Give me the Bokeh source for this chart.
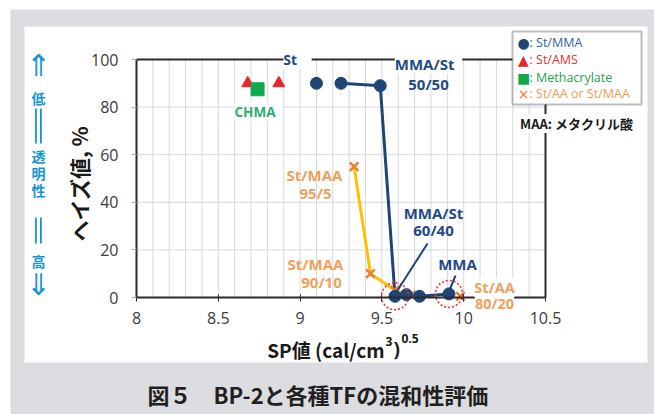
import math
from bokeh.plotting import figure
from bokeh.models import (Range1d, LinearAxis, SingleIntervalTicker, FixedTicker, Label,
                          BoxAnnotation, NumeralTickFormatter)
from bokeh.embed import file_html
from bokeh.resources import INLINE

# --- data: SP value (cal/cm3)^0.5 vs haze (%) ---
st_mma_sp = [9.10, 9.25, 9.49, 9.58, 9.65, 9.73, 9.91]
st_mma_haze = [90, 90, 89, 0.5, 1.2, 0.5, 1.5]
st_ams_sp = [8.68, 8.87]
st_ams_haze = [90, 90]
chma_sp = [8.74]
chma_haze = [87.5]
st_maa_sp = [9.33, 9.43, 9.58, 9.68]
st_maa_haze = [55, 10, 3, 1]
st_aa_sp = [9.98]
st_aa_haze = [0.5]

x_tick_step = 0.5
x_grid_step = 0.1
y_tick_step = 20

# --- page geometry (pixels); the frame spans the whole canvas ---
W, H = 654, 414
FL, FR, FT = 136, 545, 59   # pixel columns of SP 8 / 10.5, pixel row of haze 100
Y0 = 297                     # pixel row of haze = 0
XMIN, XMAX, YMIN, YMAX = 8, 10.5, 0, 100


def dx(px):
    return XMIN + (px - FL) * (XMAX - XMIN) / (FR - FL)


def dy(py):
    return (Y0 - py) * YMAX / (Y0 - FT)


NAVY = "#1f4476"
NAVY_TXT = "#1f4a86"
RED = "#e8262a"
GREEN = "#12a84e"
ORANGE = "#ed7d31"
ORANGE_TXT = "#f0a05a"
GOLD = "#ffc000"
CYAN = "#1496d6"
GRID = "#d6d8e0"
DARK = "#2b2b2b"
GRAY = "#dcdde0"
JP = "Noto Sans CJK JP"
LAT = "Open Sans"

p = figure(width=W, height=H,
           x_range=Range1d(dx(0), dx(W)), y_range=Range1d(dy(H), dy(0)),
           output_backend="svg", toolbar_location=None,
           min_border=0, min_border_left=0, min_border_right=0,
           min_border_top=0, min_border_bottom=0,
           border_fill_color="white", background_fill_color="white",
           outline_line_color=None)

# background: gray band with a white card on it
p.add_layout(BoxAnnotation(left=dx(10), right=dx(700), top=dy(9), bottom=dy(460),
                           fill_color=GRAY, fill_alpha=1, line_color=None, level="image"))
p.add_layout(BoxAnnotation(left=dx(24), right=dx(647), top=dy(26), bottom=dy(362),
                           fill_color="white", fill_alpha=1, line_color=None, level="image"))

# --- grid, limited to the data area ---
p.xgrid.visible = False
p.ygrid.visible = False
n_vx = int(round((XMAX - XMIN) / x_grid_step)) + 1
grid_x = [XMIN + i * x_grid_step for i in range(n_vx)]
p.segment(x0=grid_x, y0=[YMIN] * n_vx, x1=grid_x, y1=[YMAX] * n_vx,
          line_color=GRID, line_width=1)
n_hy = int(round((YMAX - YMIN) / y_tick_step)) + 1
grid_y = [YMIN + i * y_tick_step for i in range(n_hy)]
p.segment(x0=[XMIN] * n_hy, y0=grid_y, x1=[XMAX] * n_hy, y1=grid_y,
          line_color=GRID, line_width=1)

# --- axes, pinned to the data box ---
xt = SingleIntervalTicker(interval=x_tick_step, num_minor_ticks=0)
yt = SingleIntervalTicker(interval=y_tick_step, num_minor_ticks=0)

xa = p.xaxis[0]
xa.ticker = xt
xa.formatter = NumeralTickFormatter(format="0.[0]")
xa.fixed_location = YMIN
xa.bounds = (XMIN, XMAX)
xa.axis_line_color = DARK
xa.axis_line_width = 2
xa.major_tick_line_color = DARK
xa.major_tick_in = 3
xa.major_tick_out = 4
xa.minor_tick_line_color = None
xa.major_label_standoff = 10
xa.major_label_text_font = LAT
xa.major_label_text_font_size = "16px"
xa.major_label_text_color = "#3c3c3c"

ya = p.yaxis[0]
ya.ticker = yt
ya.fixed_location = XMIN
ya.bounds = (YMIN, YMAX)
ya.axis_line_color = DARK
ya.axis_line_width = 2
ya.major_tick_line_color = "#b0b0b0"
ya.major_tick_in = 0
ya.major_tick_out = 5
ya.minor_tick_line_color = None
ya.major_label_standoff = 13
ya.major_label_text_font = LAT
ya.major_label_text_font_size = "16px"
ya.major_label_text_color = "#3c3c3c"

# plain frame lines on top and right
top_ax = LinearAxis(ticker=FixedTicker(ticks=[]), fixed_location=YMAX, bounds=(XMIN, XMAX),
                    axis_line_color=DARK, axis_line_width=2,
                    major_tick_line_color=None, minor_tick_line_color=None)
p.add_layout(top_ax, "above")
right_ax = LinearAxis(ticker=FixedTicker(ticks=[]), fixed_location=XMAX, bounds=(YMIN, YMAX),
                      axis_line_color=DARK, axis_line_width=2,
                      major_tick_line_color=None, minor_tick_line_color=None)
p.add_layout(right_ax, "right")

# --- series ---
p.line(st_maa_sp, st_maa_haze, line_color=GOLD, line_width=3)
p.line(st_mma_sp[1:], st_mma_haze[1:], line_color=NAVY, line_width=3)
p.scatter(st_ams_sp, st_ams_haze, marker="triangle", size=12, color=RED)
p.scatter(chma_sp, chma_haze, marker="square", size=13, color=GREEN)
p.scatter(st_maa_sp, st_maa_haze, marker="x", size=12, line_color=ORANGE, line_width=2.5)
p.scatter(st_aa_sp, st_aa_haze, marker="x", size=12, line_color=ORANGE, line_width=2.5)
p.scatter(st_mma_sp, st_mma_haze, marker="circle", size=12, color=NAVY)

# dotted rings around the clear blends
ring_idx = [3, 6]
p.scatter([st_mma_sp[i] for i in ring_idx], [st_mma_haze[i] for i in ring_idx],
          marker="circle", size=27, fill_color=None, line_color="#f03030",
          line_width=1.6, line_dash="2 2")

# leader lines
p.segment(x0=[dx(427), dx(455)], y0=[dy(243), dy(275)],
          x1=[st_mma_sp[3] + 0.015, st_mma_sp[6] + 0.005], y1=[dy(290), dy(289)],
          line_color=NAVY, line_width=2)


def lab(text, px, py, color, size, bold=True, font=LAT, align="center",
        baseline="middle", bg=None, angle=0.0):
    p.add_layout(Label(x=dx(px), y=dy(py), text=text, text_color=color,
                       text_font=font, text_font_size=f"{size}px",
                       text_font_style="bold" if bold else "normal",
                       text_align=align, text_baseline=baseline, angle=angle,
                       background_fill_color=bg))


# point annotations
lab("  St  ", 297, 59, NAVY_TXT, 14, bg="white")
lab(" MMA/St ", 428, 63, NAVY_TXT, 15, bg="white")
lab("50/50", 428, 83, NAVY_TXT, 15)
lab(" CHMA ", 258, 111, "#2fae74", 13.5, bg="white")
lab("St/MAA", 314, 174, ORANGE_TXT, 15)
lab("95/5", 315, 192, ORANGE_TXT, 15)
lab("St/MAA", 315, 263, ORANGE_TXT, 15)
lab("90/10", 321, 281, ORANGE_TXT, 15)
lab("MMA/St", 433, 212, NAVY_TXT, 15)
lab("60/40", 433, 229, NAVY_TXT, 15)
lab("MMA", 457, 263, NAVY_TXT, 15)
lab("St/AA", 494, 287, ORANGE_TXT, 14.5, bg="white")
lab("80/20", 494, 303, ORANGE_TXT, 14.5, bg="white")

# legend card
p.add_layout(BoxAnnotation(left=dx(512), right=dx(641), top=dy(31), bottom=dy(104),
                           fill_color="white", fill_alpha=1, line_color="#222222",
                           line_width=2, level="annotation"))
legend_rows = [("●", NAVY, ": St/MMA", "#2e62ad", 42),
               ("▲", RED, ": St/AMS", "#e83030", 59),
               ("■", GREEN, ": Methacrylate", "#22a24a", 77),
               ("×", ORANGE, ": St/AA or St/MAA", "#f09a50", 93)]
for sym, sc, txt, tc, py in legend_rows:
    lab(sym, 523, py, sc, 14, bold=False, font="DejaVu Sans")
    lab(txt, 529, py, tc, 12.5, bold=False, align="left")
lab(" MAA: メタクリル酸 ", 579, 123, "#1a1a1a", 13, font=JP, bg="white")

# axis titles
lab("ヘイズ値, %", 78, 183, "#1a1a1a", 21, font=JP, angle=math.pi / 2)
lab("SP値 (cal/cm", 384, 349, "#1a1a1a", 19, font=JP, align="right")
lab("3", 385, 341, "#1a1a1a", 12, font=LAT, align="left")
lab(")", 393, 348, "#1a1a1a", 19, font=LAT, align="left")
lab("0.5", 401, 338, "#1a1a1a", 12, font=LAT, align="left")

# transparency scale on the left
lab("⇑", 38, 65, CYAN, 30, bold=False, font="DejaVu Sans")
lab("低", 38, 97, CYAN, 14, font=JP)
lab("透", 38, 155, CYAN, 14, font=JP)
lab("明", 38, 172, CYAN, 14, font=JP)
lab("性", 38, 189, CYAN, 14, font=JP)
lab("高", 38, 260, CYAN, 14, font=JP)
lab("⇓", 38, 284, CYAN, 30, bold=False, font="DejaVu Sans")
for top_px, bot_px in [(108, 143), (217, 243)]:
    for lx in (34.5, 39.5):
        p.add_layout(BoxAnnotation(left=dx(lx), right=dx(lx + 1.8), top=dy(top_px),
                                   bottom=dy(bot_px), fill_color=CYAN, fill_alpha=1,
                                   line_color=None, level="annotation"))

# caption
lab("図５　BP-2と各種TFの混和性評価", 147, 393, "#231f20", 22, font=JP, align="left")

open("out.html", "w").write(file_html(p, INLINE))
